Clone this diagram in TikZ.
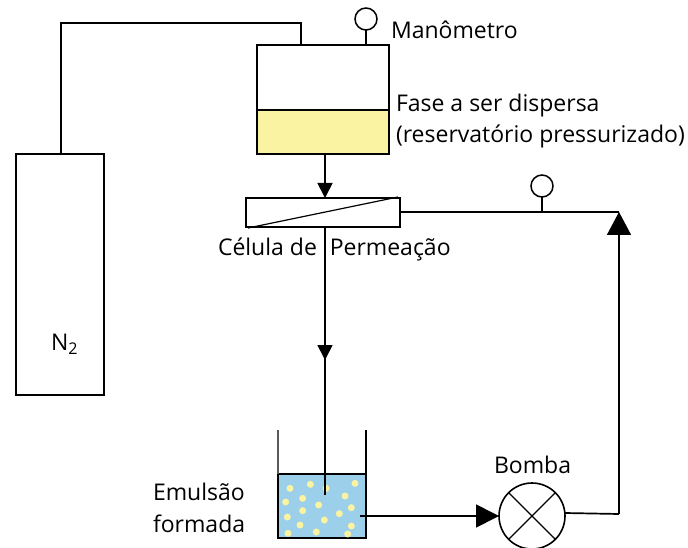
\documentclass[tikz,border=0pt]{standalone}
\usepackage{fontspec}
\setmainfont{Open Sans}
\usetikzlibrary{arrows.meta}
\definecolor{liq}{HTML}{F9F3A2}
\definecolor{emul}{HTML}{9CCFEA}
\tikzset{
  x=1pt,y=-1pt,
  every node/.style={inner sep=0pt,outer sep=0pt},
  equip/.style={draw=black,line width=1.8pt,minimum width=#1,anchor=north west},
  gauge/.style={circle,draw=black,line width=1.5pt,fill=white,minimum size=22pt},
  pipe/.style={draw=black,line width=1.7pt},
  tipped/.style={pipe,-{Triangle[length=15pt,width=15pt]}},
  lbl/.style={font=\fontsize{23}{27}\selectfont,anchor=west},
  bubble/.style={circle,fill=liq,minimum size=7pt}
}
\begin{document}
\begin{tikzpicture}
\useasboundingbox (0,0) rectangle (688,548);
% reservoir
\node[equip=132pt,minimum height=65pt] (res) at (257,45) {};
\node[equip=132pt,minimum height=44pt,fill=liq] (liquid) at (257,110) {};
% cylinder
\node[equip=88pt,minimum height=241pt] (cyl) at (16,154) {};
\node[lbl] (n2) at (51,344) {N\textsubscript{2}};
% cell
\node[equip=154pt,minimum height=29pt] (cell) at (246,198) {};
\draw[line width=1.2pt] ([shift={(2pt,-1pt)}]cell.south west) -- ([shift={(-2pt,1pt)}]cell.north east);
% beaker
\node[draw=black,line width=1.8pt,fill=emul,anchor=north west,minimum width=88pt,minimum height=64pt] (bk) at (278,474) {};
\foreach \px/\py in {90/205,151/193,198/205,285/190,77/246,128/235,255/228,176/255,128/272,274/263,238/281,82/291,193/300,120/315,274/318,84/340,169/336,263/342}
  \node[bubble] at ({260+\px/3},{420+\py/3}) {};
\coordinate (wl) at (278,430);
\coordinate (wr) at (366,430);
\draw[pipe,black!65] (bk.north west) -- (wl);
\draw[pipe] (bk.north east) -- (wr);
% pump
\node[circle,draw=black,line width=1.6pt,minimum size=66pt] (pump) at (532,516) {};
\draw[line width=1.4pt] (pump.north west) -- (pump.south east);
\draw[line width=1.4pt] (pump.north east) -- (pump.south west);
% gauges
\node[gauge] (g1) at (366,19) {};
\node[gauge] (g2) at (542,186) {};
\coordinate (j1) at (366,45);
\coordinate (j2) at (542,212);
\draw[pipe] (g1) -- (j1);
\draw[pipe] (g2) -- (j2);
% connectors
\coordinate (c1) at (301,45);
\coordinate (c2) at (301,23);
\coordinate (c3) at (61,23);
\coordinate (c4) at (61,154);
\draw[pipe] (c1) -- (c2) -- (c3) -- (c4);
\coordinate (f1) at (325,154);
\coordinate (f2) at (325,198);
\draw[tipped] (f1) -- (f2);
\coordinate (d1) at (325,227);
\coordinate (d2) at (325,360);
\coordinate (d2b) at (325,350);
\coordinate (d3) at (325,495);
\draw[tipped] (d1) -- (d2);
\draw[pipe] (d2b) -- (d3);
\coordinate (e1) at (360,516);
\draw[pipe,-{Triangle[length=23pt,width=23pt]}] (e1) -- (pump.west);
\coordinate (p1) at (565,513);
\coordinate (p2) at (619,514);
\coordinate (p3) at (619,212);
\draw[pipe] (p1) -- (p2);
\draw[pipe,-{Triangle[length=23pt,width=24pt]}] (p2) -- (p3);
\coordinate (k1) at (400,212);
\draw[pipe] (k1) -- (p3);
% labels
\node[lbl] (t1) at (391,29.5) {Manômetro};
\node[lbl] (t2) at (396,105.5) {Fase a ser dispersa};
\node[lbl] (t3) at (396,136.5) {(reservatório pressurizado)};
\node[lbl] (t4) at (218,249) {Célula de\hspace{0.3em} Permeação};
\node[lbl] (t5) at (153,492) {Emulsão};
\node[lbl] (t6) at (153,524) {formada};
\node[lbl] (t7) at (494,465) {Bomba};
\end{tikzpicture}
\end{document}
